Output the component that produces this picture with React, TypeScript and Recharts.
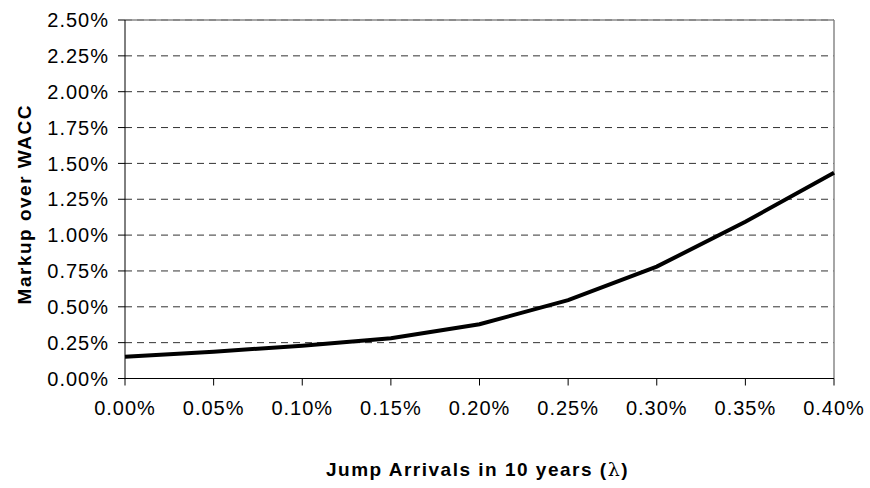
import React from "react";
import { LineChart, Line, XAxis, YAxis, CartesianGrid, ReferenceLine, Label } from "recharts";

const categories = ["0.00%", "0.05%", "0.10%", "0.15%", "0.20%", "0.25%", "0.30%", "0.35%", "0.40%"];
const markup = [0.152, 0.187, 0.229, 0.28, 0.378, 0.547, 0.78, 1.093, 1.435];
const yTicks = [0, 0.25, 0.5, 0.75, 1, 1.25, 1.5, 1.75, 2, 2.25, 2.5];

const data = categories.map((c, i) => ({ cat: c, markup: markup[i] }));

const FONT = "'Liberation Sans', Arial, Helvetica, sans-serif";
const tickStyle = { fontSize: 20, fill: "#000", fontFamily: FONT, letterSpacing: 1 };

export default function App() {
  return (
    <div style={{ position: "absolute", left: 0, top: 0, width: 870, height: 488, background: "#fff" }}>
      <LineChart width={870} height={488} data={data} margin={{ top: 20, right: 36, left: 0, bottom: 49.5 }}>
        <CartesianGrid vertical={false} stroke="#333" strokeDasharray="7 5" />
        <XAxis
          dataKey="cat"
          type="category"
          height={60}
          interval={0}
          axisLine={{ stroke: "#000", strokeWidth: 1 }}
          tickLine={{ stroke: "#000" }}
          tickSize={7}
          tickMargin={15}
          tick={tickStyle}
        >
          <Label
            content={(props: any) => {
              const vb = props.viewBox || {};
              return (
                <text
                  x={vb.x + vb.width / 2 - 2}
                  y={vb.y + 97.5}
                  textAnchor="middle"
                  fontFamily={FONT}
                  fontSize={19}
                  fontWeight="bold"
                  letterSpacing={1.5}
                  fill="#000"
                >
                  Jump Arrivals in 10 years (
                  <tspan fontWeight="normal" fontFamily="'DejaVu Serif', serif">λ</tspan>)
                </text>
              );
            }}
          />
        </XAxis>
        <YAxis
          type="number"
          domain={[0, 2.5]}
          ticks={yTicks}
          interval={0}
          width={125}
          axisLine={{ stroke: "#000", strokeWidth: 1 }}
          tickLine={{ stroke: "#000" }}
          tickSize={7}
          tickMargin={9}
          tick={tickStyle}
          tickFormatter={(v: number) => v.toFixed(2) + "%"}
        >
          <Label
            content={(props: any) => {
              const vb = props.viewBox || {};
              const cx = vb.x + 24;
              const cy = vb.y + vb.height / 2 + 5;
              return (
                <text
                  x={cx}
                  y={cy}
                  transform={`rotate(-90 ${cx} ${cy})`}
                  textAnchor="middle"
                  dominantBaseline="central"
                  fontFamily={FONT}
                  fontSize={19}
                  fontWeight="bold"
                  letterSpacing={1.5}
                  fill="#000"
                >
                  Markup over WACC
                </text>
              );
            }}
          />
        </YAxis>
        <ReferenceLine y={2.5} stroke="#888" strokeWidth={1.5} />
        <ReferenceLine x="0.40%" stroke="#888" strokeWidth={1.5} />
        <Line
          type="linear"
          dataKey="markup"
          stroke="#000"
          strokeWidth={4}
          dot={false}
          activeDot={false}
          isAnimationActive={false}
        />
      </LineChart>
    </div>
  );
}
